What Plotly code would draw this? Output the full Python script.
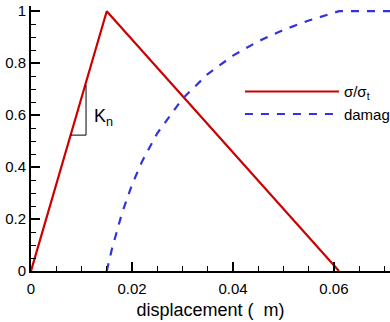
import plotly.graph_objects as go

# data
stress_x = [0.0, 0.015, 0.061]
stress_y = [0.0, 1.0, 0.0]
damage_x = [0.015, 0.016, 0.018, 0.020, 0.022, 0.025, 0.030, 0.035, 0.040, 0.045, 0.050, 0.055, 0.061, 0.0711]
damage_y = [0.0, 0.083, 0.221, 0.332, 0.422, 0.530, 0.663, 0.758, 0.829, 0.884, 0.928, 0.964, 1.0, 1.0]
kn_x = [0.0079, 0.0109, 0.0109]
kn_y = [0.523, 0.523, 0.715]
x_ticks = [0, 0.02, 0.04, 0.06]
x_tick_labels = ["0", "0.02", "0.04", "0.06"]
y_ticks = [0, 0.2, 0.4, 0.6, 0.8, 1.0]
y_tick_labels = ["0", "0.2", "0.4", "0.6", "0.8", "1"]

FONT = "Liberation Sans, Arial, sans-serif"

fig = go.Figure()
fig.add_trace(go.Scatter(x=stress_x, y=stress_y, mode="lines", name="σ/σ<sub>t</sub>",
                         line=dict(color="#cc0000", width=2.2)))
fig.add_trace(go.Scatter(x=damage_x, y=damage_y, mode="lines", name="damage",
                         line=dict(color="#3333dd", width=2.2, dash="8px,8px")))
fig.add_trace(go.Scatter(x=kn_x, y=kn_y, mode="lines", showlegend=False,
                         line=dict(color="black", width=1)))

fig.add_annotation(x=0.0121, y=0.59, xref="x", yref="y", text="K<sub>n</sub>",
                   showarrow=False, xanchor="left", yanchor="middle",
                   font=dict(size=18, color="black", family=FONT))

fig.update_layout(
    width=390, height=322,
    margin=dict(l=31, r=0, t=6, b=51, autoexpand=False),
    paper_bgcolor="white", plot_bgcolor="white",
    font=dict(family=FONT, size=15, color="black"),
    showlegend=True,
    legend=dict(x=0.582, y=0.635, xanchor="left", yanchor="middle",
                bgcolor="rgba(0,0,0,0)", itemwidth=94,
                font=dict(size=15, family=FONT), tracegroupgap=4),
    xaxis=dict(range=[0, 0.0711], tickvals=x_ticks, ticktext=x_tick_labels,
               ticks="inside", ticklen=9, tickwidth=1.5, tickcolor="black",
               showline=True, linecolor="black", linewidth=2, showgrid=False,
               zeroline=False, ticklabelstandoff=3, automargin=False,
               minor=dict(dtick=0.005, ticks="inside", ticklen=5, tickwidth=1.2, tickcolor="black", showgrid=False),
               title=dict(text="displacement (  m)", font=dict(size=18, family=FONT), standoff=7),
               tickfont=dict(size=15, family=FONT)),
    yaxis=dict(range=[0, 1.02], tickvals=y_ticks, ticktext=y_tick_labels,
               ticks="inside", ticklen=9, tickwidth=1.5, tickcolor="black",
               showline=True, linecolor="black", linewidth=2, showgrid=False,
               zeroline=False, automargin=False,
               minor=dict(dtick=0.05, ticks="inside", ticklen=5, tickwidth=1.2, tickcolor="black", showgrid=False),
               tickfont=dict(size=15, family=FONT)),
)

fig.write_html("out.html")
